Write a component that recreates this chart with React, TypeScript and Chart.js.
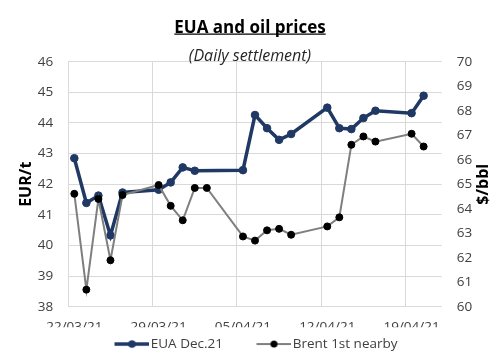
import React, { useEffect, useRef } from "react";
import { Chart, registerables } from "chart.js";

Chart.register(...registerables);

const FONT = '"Open Sans", sans-serif';

// ---- data ----
const euaDates = [
  "22/03/21", "23/03/21", "24/03/21", "25/03/21", "26/03/21",
  "29/03/21", "30/03/21", "31/03/21", "01/04/21",
  "05/04/21", "06/04/21", "07/04/21", "08/04/21", "09/04/21",
  "12/04/21", "13/04/21", "14/04/21", "15/04/21", "16/04/21",
  "19/04/21", "20/04/21",
];
const euaValues = [
  42.85, 41.39, 41.63, 40.33, 41.73,
  41.82, 42.06, 42.55, 42.44,
  42.46, 44.26, 43.83, 43.45, 43.64,
  44.5, 43.83, 43.8, 44.16, 44.4,
  44.32, 44.89,
];
const brentDates = [
  "22/03/21", "23/03/21", "24/03/21", "25/03/21", "26/03/21",
  "29/03/21", "30/03/21", "31/03/21", "01/04/21", "02/04/21",
  "05/04/21", "06/04/21", "07/04/21", "08/04/21", "09/04/21",
  "12/04/21", "13/04/21", "14/04/21", "15/04/21", "16/04/21",
  "19/04/21", "20/04/21",
];
const brentValues = [
  64.61, 60.7, 64.4, 61.9, 64.56,
  64.97, 64.12, 63.53, 64.85, 64.85,
  62.87, 62.7, 63.12, 63.18, 62.94,
  63.28, 63.65, 66.61, 66.95, 66.74,
  67.06, 66.54,
];
const xTickLabels = ["22/03/21", "29/03/21", "05/04/21", "12/04/21", "19/04/21"];
const xAxisStart = "22/03/21";
const xAxisEnd = "22/04/21";
const leftAxisMin = 38;
const leftAxisMax = 46;
const rightAxisMin = 60;
const rightAxisMax = 70;
const seriesNames = ["EUA Dec.21", "Brent 1st nearby"];
const titleText = "EUA and oil prices";
const subtitleText = "(Daily settlement)";
const leftAxisTitle = "EUR/t";
const rightAxisTitle = "$/bbl";

// ---- helpers ----
function dayNumber(s: string): number {
  const [d, m, y] = s.split("/").map(Number);
  return Date.UTC(2000 + y, m - 1, d) / 86400000;
}
const base = dayNumber(xAxisStart);
const toX = (s: string) => dayNumber(s) - base;
// Excel date axis puts each day's point in the middle of its slot
const toPoints = (dates: string[], values: number[]) =>
  dates.map((d, i) => ({ x: toX(d) + 0.5, y: values[i] }));

function legendIcon(lineColor: string, lineWidth: number, dotColor: string, r: number) {
  const c = document.createElement("canvas");
  c.width = 64;
  c.height = 12;
  const g = c.getContext("2d")!;
  g.strokeStyle = lineColor;
  g.lineWidth = lineWidth;
  g.beginPath();
  g.moveTo(29, 6);
  g.lineTo(64, 6);
  g.stroke();
  g.fillStyle = dotColor;
  g.beginPath();
  g.arc(46.5, 6, r, 0, Math.PI * 2);
  g.fill();
  return c;
}

const NAVY = "#1F3864";
const GREY = "#7F7F7F";
const GRID = "#D9D9D9";
const TICK = "#404040";

const TITLE_SIZE = 17;
const TITLE_PAD_TOP = 17.5;
const TICK_FONT = { family: FONT, size: 13.5 };

export default function App() {
  const ref = useRef<HTMLCanvasElement>(null);

  useEffect(() => {
    if (!ref.current) return;
    const icons = [legendIcon(NAVY, 3.5, NAVY, 3.8), legendIcon(GREY, 2, "#000", 3.5)];

    const decor = {
      id: "decor",
      afterLayout(chart: any) {
        const lg = chart.legend;
        if (lg) {
          lg.left -= 11.5;
        }
      },
      afterDraw(chart: any) {
        const ctx = chart.ctx;
        // underline the title
        const tb = chart.titleBlock;
        if (tb) {
          ctx.save();
          ctx.font = `bold ${TITLE_SIZE}px ${FONT}`;
          const w = ctx.measureText(titleText).width;
          const cx = (tb.left + tb.right) / 2;
          const cy = tb.top + TITLE_PAD_TOP + (TITLE_SIZE * 1.2) / 2;
          const uy = cy + 0.285 * TITLE_SIZE + 1.6;
          ctx.strokeStyle = "#000";
          ctx.lineWidth = 1.2;
          ctx.beginPath();
          ctx.moveTo(cx - w / 2, uy);
          ctx.lineTo(cx + w / 2, uy);
          ctx.stroke();
          ctx.restore();
        }
        // right axis title, reading bottom-to-top like the left one
        const s = chart.scales.y1;
        if (s) {
          ctx.save();
          ctx.translate(s.right - 7, (s.top + s.bottom) / 2);
          ctx.rotate(-Math.PI / 2);
          ctx.font = `bold 16px ${FONT}`;
          ctx.fillStyle = "#000";
          ctx.textAlign = "center";
          ctx.textBaseline = "middle";
          ctx.fillText(rightAxisTitle, 0, 0);
          ctx.restore();
        }
      },
    };

    const chart = new Chart(ref.current, {
      type: "line",
      data: {
        datasets: [
          {
            label: seriesNames[0],
            data: toPoints(euaDates, euaValues),
            borderColor: NAVY,
            backgroundColor: NAVY,
            borderWidth: 3.5,
            pointRadius: 3.8,
            pointBackgroundColor: NAVY,
            pointBorderColor: NAVY,
            pointBorderWidth: 1,
            yAxisID: "y",
            order: 1,
            tension: 0,
          },
          {
            label: seriesNames[1],
            data: toPoints(brentDates, brentValues),
            borderColor: GREY,
            backgroundColor: "#000",
            borderWidth: 2,
            pointRadius: 3.5,
            pointBackgroundColor: "#000",
            pointBorderColor: "#000",
            pointBorderWidth: 1,
            yAxisID: "y1",
            order: 0,
            tension: 0,
          },
        ],
      },
      options: {
        responsive: false,
        animation: false,
        devicePixelRatio: 1,
        layout: { padding: { left: 10, right: 11, top: 0, bottom: -3.8 } },
        plugins: {
          tooltip: { enabled: false },
          title: {
            display: true,
            text: titleText,
            color: "#000",
            font: { family: FONT, size: TITLE_SIZE, weight: "bold", lineHeight: 1.2 },
            padding: { top: TITLE_PAD_TOP, bottom: 0 },
          },
          subtitle: {
            display: true,
            text: subtitleText,
            color: "#262626",
            font: { family: FONT, size: 16, style: "italic", lineHeight: 1.2 },
            padding: { top: 8.5, bottom: -3.9 },
          },
          legend: {
            display: true,
            position: "bottom",
            labels: {
              usePointStyle: true,
              pointStyleWidth: 53,
              padding: 10,
              color: TICK,
              font: { family: FONT, size: 13.5 },
              sort: (a: any, b: any) => a.datasetIndex - b.datasetIndex,
              generateLabels: (c: any) => {
                const items = (Chart as any).defaults.plugins.legend.labels.generateLabels(c);
                return items.map((it: any) => ({ ...it, pointStyle: icons[it.datasetIndex] }));
              },
            },
          },
        },
        scales: {
          x: {
            type: "linear",
            min: toX(xAxisStart),
            max: toX(xAxisEnd),
            afterBuildTicks: (scale: any) => {
              scale.ticks = xTickLabels.map((l) => ({ value: toX(l) }));
            },
            afterFit: (scale: any) => {
              scale.height = 20.5;
            },
            ticks: {
              autoSkip: false,
              maxRotation: 0,
              labelOffset: 6,
              padding: 12.1,
              color: TICK,
              font: TICK_FONT,
              callback: (v: any) => {
                const l = xTickLabels.find((t) => toX(t) === v);
                return l ?? "";
              },
            },
            grid: { color: GRID, lineWidth: 1, drawTicks: false },
            border: { display: false },
          },
          y: {
            type: "linear",
            position: "left",
            min: leftAxisMin,
            max: leftAxisMax,
            afterFit: (scale: any) => {
              scale.width = 58.3;
            },
            ticks: {
              stepSize: 1,
              padding: 15,
              color: TICK,
              font: TICK_FONT,
            },
            grid: { color: GRID, lineWidth: 1, drawTicks: false },
            border: { display: false },
            title: {
              display: true,
              text: leftAxisTitle,
              color: "#000",
              font: { family: FONT, size: 16, weight: "bold", lineHeight: 1 },
              padding: { top: 8, bottom: 4.4 },
            },
          },
          y1: {
            type: "linear",
            position: "right",
            min: rightAxisMin,
            max: rightAxisMax,
            afterFit: (scale: any) => {
              scale.width = 48.3;
            },
            ticks: {
              stepSize: 1,
              padding: 15,
              color: TICK,
              font: TICK_FONT,
            },
            grid: { display: false, drawTicks: false },
            border: { display: false },
            title: {
              display: true,
              text: rightAxisTitle,
              color: "rgba(0,0,0,0)",
              font: { family: FONT, size: 16, weight: "bold", lineHeight: 1 },
              padding: { top: 0, bottom: 2.4 },
            },
          },
        },
      },
      plugins: [decor],
    } as any);

    return () => chart.destroy();
  }, []);

  return (
    <canvas
      ref={ref}
      width={501}
      height={357}
      style={{ position: "absolute", left: 0, top: 0, display: "block", width: 501, height: 357 }}
    />
  );
}
